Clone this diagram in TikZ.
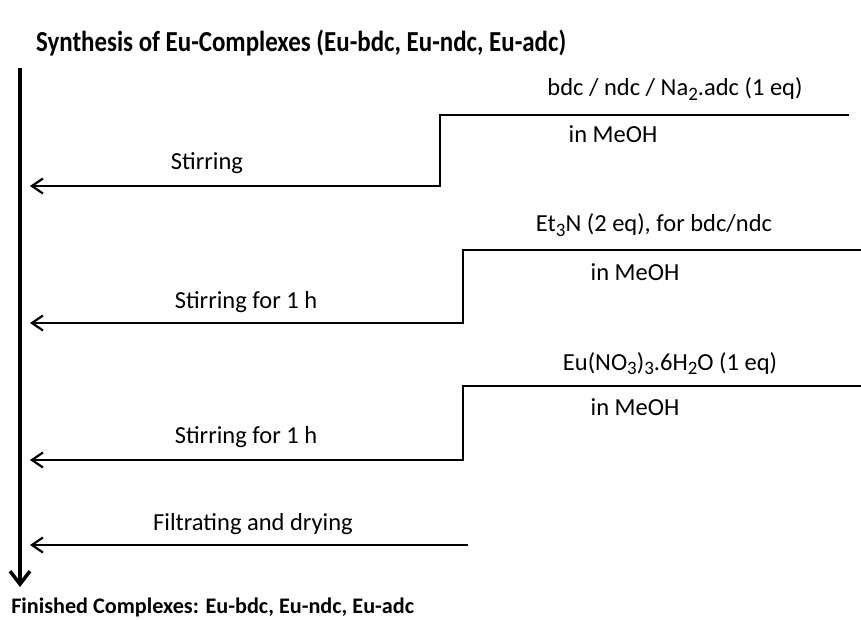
\documentclass[tikz,border=0pt]{standalone}
\usepackage{fontspec}
\setmainfont{Carlito}
\usetikzlibrary{arrows.meta}
\newcommand{\tiefzahl}[1]{\raisebox{-0.35ex}{\fontsize{19}{20}\selectfont #1}}
\begin{document}
\begin{tikzpicture}[x=1pt,y=-1pt,line width=2.5pt,
      pfeil/.style={line width=2.5pt,{Straight Barb[length=11pt,width=15pt,line width=2.2pt]}-},
      hauptpfeil/.style={line width=3.5pt,-{Straight Barb[length=13pt,width=20pt,line width=3.5pt]}},
      mytext/.style={anchor=base,font=\fontsize{24.5}{29}\selectfont},
      titel/.style={anchor=base west,inner sep=0pt,xscale=0.86,transform shape,
        font=\fontsize{29}{34}\selectfont\bfseries}]
    \useasboundingbox (0,0) rectangle (861,620);
    \node[titel] at (35,52) (T0) {Synthesis of Eu-Complexes (Eu-bdc, Eu-ndc, Eu-adc)};
    \coordinate (V0) at (20,68);
    \coordinate (V1) at (20,587);
    \draw[hauptpfeil] (V0)--(V1) ;
    % step 1
    \coordinate (A1) at (30,186);
    \coordinate (B1) at (440,186);
    \coordinate (C1) at (440,115);
    \coordinate (D1) at (849,115);
    \draw[pfeil] (A1)--(B1)--(C1)--(D1) ;
    \node[mytext] at (207,170) (S1) {Stirring};
    \node[mytext] at (675,96) (R1) {bdc / ndc / Na\tiefzahl{2}.adc (1 eq)};
    \node[mytext] at (613,143) (M1) {in MeOH};
    % step 2
    \coordinate (A2) at (30,323);
    \coordinate (B2) at (463,323);
    \coordinate (C2) at (463,250);
    \coordinate (D2) at (861,250);
    \draw[pfeil] (A2)--(B2)--(C2)--(D2) ;
    \node[mytext] at (246,308) (S2) {Stirring for 1 h};
    \node[mytext] at (654,232) (R2) {Et\tiefzahl{3}N (2 eq), for bdc/ndc};
    \node[mytext] at (635,280) (M2) {in MeOH};
    % step 3
    \coordinate (A3) at (30,460);
    \coordinate (B3) at (463,460);
    \coordinate (C3) at (463,386);
    \coordinate (D3) at (861,386);
    \draw[pfeil] (A3)--(B3)--(C3)--(D3) ;
    \node[mytext] at (246,443) (S3) {Stirring for 1 h};
    \node[mytext] at (670,370) (R3) {Eu(NO\tiefzahl{3})\tiefzahl{3}.6H\tiefzahl{2}O (1 eq)};
    \node[mytext] at (635,415) (M3) {in MeOH};
    % step 4
    \coordinate (A4) at (30,545);
    \coordinate (B4) at (468,545);
    \draw[pfeil] (A4)--(B4) ;
    \node[mytext] at (253,530) (S4) {Filtrating and drying};
    \node[anchor=base west,inner sep=0pt,font=\fontsize{22.2}{26}\selectfont\bfseries] at (10,613) (E0) {Finished Complexes: Eu-bdc, Eu-ndc, Eu-adc};
  \end{tikzpicture}
\end{document}
